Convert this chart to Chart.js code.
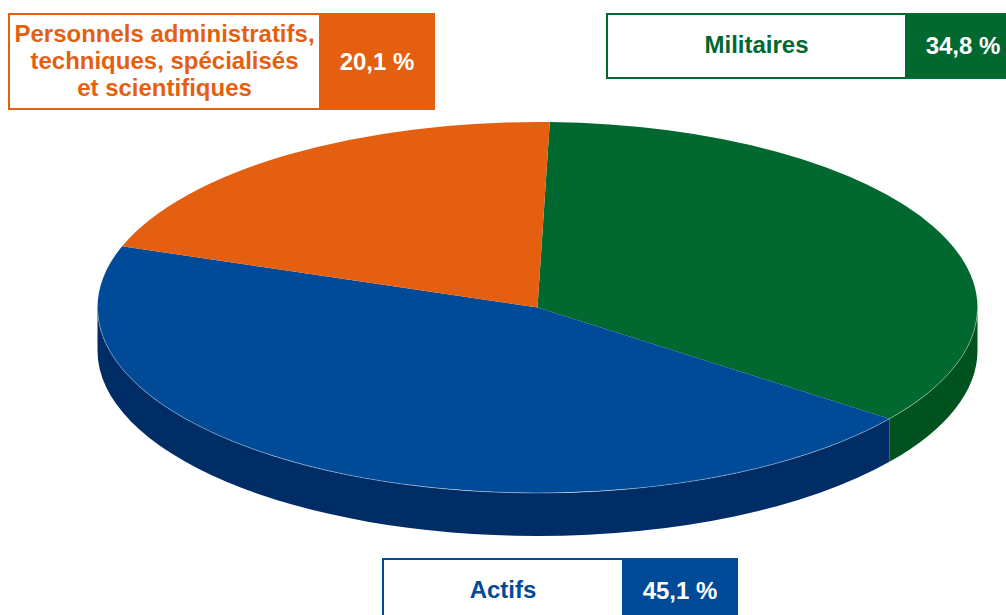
<!DOCTYPE html>
<html lang="fr">
<head>
<meta charset="utf-8">
<title>Répartition des effectifs</title>
<script src="https://cdn.jsdelivr.net/npm/chart.js@4/dist/chart.umd.min.js"></script>
<style>
  html, body { margin: 0; padding: 0; background: #fff; overflow: hidden; }
  #wrap { position: relative; width: 1006px; height: 615px; }
  #pie { position: absolute; left: 0; top: 0; }
  .box { position: absolute; display: flex; font: bold 24px "Liberation Sans", Arial, sans-serif; }
  .box .name, .box .val { box-sizing: border-box; display: flex; align-items: center; justify-content: center; text-align: center; }
  .box .name { background: #fff; border: 2px solid; border-right: none; line-height: 27px; }
  .box .val { width: 116px; color: #fff; }
</style>
</head>
<body>
<div id="wrap">
  <canvas id="pie" width="1006" height="615"></canvas>
</div>
<script>
// categories and shares (%)
const labels = ["Militaires", "Actifs", "Personnels administratifs, techniques, spécialisés et scientifiques"];
const shares = [34.8, 45.1, 20.1];
// text as laid out in the boxes
const boxLines = [["Militaires"], ["Actifs"], ["Personnels administratifs,", "techniques, spécialisés", "et scientifiques"]];

const topColors = ["#01682f", "#004a97", "#e55f10"];
const sideColors = ["#00521f", "#002d66", "#a8440b"];

// tilt of the disc and thickness of its rim
const squash = 185.5 / 440;
const depth = 43;

const tiltPlugin = {
  id: "tilt",
  beforeDatasetsDraw(chart) {
    const ctx = chart.ctx;
    const arcs = chart.getDatasetMeta(0).data;
    const cx = arcs[0].x, cy = arcs[0].y, rx = arcs[0].outerRadius;
    const ry = rx * squash;
    // rim: only the front half (0..PI) can be seen
    arcs.forEach((arc, i) => {
      [-2 * Math.PI, 0, 2 * Math.PI].forEach(shift => {
        const a = Math.max(arc.startAngle + shift, 0);
        const b = Math.min(arc.endAngle + shift, Math.PI);
        if (b <= a) return;
        ctx.beginPath();
        ctx.ellipse(cx, cy, rx, ry, 0, a, b);
        ctx.ellipse(cx, cy + depth, rx, ry, 0, b, a, true);
        ctx.closePath();
        ctx.fillStyle = sideColors[i];
        ctx.fill();
      });
    });
    // flatten the disc
    ctx.save();
    ctx.translate(cx, cy);
    ctx.scale(1, squash);
    ctx.translate(-cx, -cy);
  },
  afterDatasetsDraw(chart) {
    const ctx = chart.ctx;
    ctx.restore();
    const arc = chart.getDatasetMeta(0).data[0];
    // light edge where top meets rim
    ctx.save();
    ctx.beginPath();
    ctx.ellipse(arc.x, arc.y, arc.outerRadius, arc.outerRadius * squash, 0, 0.02, Math.PI - 0.02);
    ctx.strokeStyle = "rgba(255,255,255,0.35)";
    ctx.lineWidth = 1;
    ctx.stroke();
    ctx.restore();
  }
};

new Chart(document.getElementById("pie"), {
  type: "pie",
  data: {
    labels: labels,
    datasets: [{
      data: shares,
      backgroundColor: topColors,
      borderWidth: 0,
      radius: 440,
      clip: false
    }]
  },
  options: {
    responsive: false,
    animation: false,
    events: [],
    rotation: 1.6,
    layout: { padding: { left: 69, right: 0, top: 0, bottom: 0 } },
    plugins: {
      legend: { display: false },
      tooltip: { enabled: false }
    }
  },
  plugins: [tiltPlugin]
});

// label boxes: name on white, share on colour
const fmt = v => v.toFixed(1).replace(".", ",") + " %";
const boxPos = [
  { left: 606, top: 13, nameW: 299, h: 66 },
  { left: 382, top: 558, nameW: 240, h: 66 },
  { left: 8, top: 13, nameW: 311, h: 97 }
];
const wrap = document.getElementById("wrap");
shares.forEach((v, i) => {
  const p = boxPos[i];
  const box = document.createElement("div");
  box.className = "box";
  box.style.left = p.left + "px";
  box.style.top = p.top + "px";
  box.style.height = p.h + "px";
  const name = document.createElement("div");
  name.className = "name";
  name.style.width = p.nameW + "px";
  name.style.color = topColors[i];
  name.style.borderColor = topColors[i];
  name.style.paddingBottom = "3px";
  name.innerHTML = boxLines[i].join("<br>");
  const val = document.createElement("div");
  val.className = "val";
  val.style.background = topColors[i];
  val.textContent = fmt(v);
  box.appendChild(name);
  box.appendChild(val);
  wrap.appendChild(box);
});
</script>
</body>
</html>
